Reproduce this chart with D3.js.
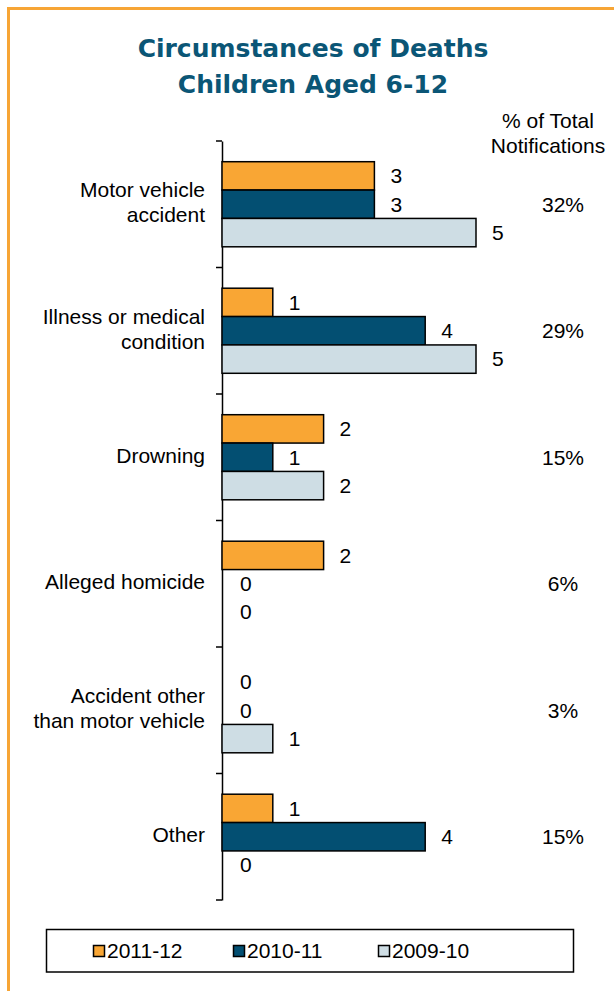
<!DOCTYPE html>
<html>
<head>
<meta charset="utf-8">
<script src="https://cdn.jsdelivr.net/npm/d3@7"></script>
<style>
  html, body { margin: 0; padding: 0; background: #fff; }
  svg { display: block; }
</style>
</head>
<body>
<svg id="chart" width="614" height="991"></svg>
<script>
// Circumstances of deaths, children aged 6-12, by financial year
const categories = [
  "Motor vehicle accident",
  "Illness or medical condition",
  "Drowning",
  "Alleged homicide",
  "Accident other than motor vehicle",
  "Other"
];
const categoryLines = [
  ["Motor vehicle", "accident"],
  ["Illness or medical", "condition"],
  ["Drowning"],
  ["Alleged homicide"],
  ["Accident other", "than motor vehicle"],
  ["Other"]
];
const seriesNames = ["2011-12", "2010-11", "2009-10"];
const values2011 = [3, 1, 2, 2, 0, 1];
const values2010 = [3, 4, 1, 0, 0, 4];
const values2009 = [5, 5, 2, 0, 1, 0];
const pctOfTotal = ["32%", "29%", "15%", "6%", "3%", "15%"];
const colors = ["#F9A634", "#034F72", "#CEDDE4"];

const seriesValues = [values2011, values2010, values2009];
const rows = categories.map((c, i) => ({
  cat: c,
  lines: categoryLines[i],
  pct: pctOfTotal[i],
  vals: seriesNames.map((s, k) => ({ series: s, value: seriesValues[k][i], color: colors[k] }))
}));

const svg = d3.select("#chart");

// page frame
svg.append("path")
  .attr("d", "M8.5,1000 V8.5 H620")
  .attr("fill", "none")
  .attr("stroke", "#F7A535")
  .attr("stroke-width", 3);

// title
const title = svg.append("text")
  .attr("text-anchor", "middle")
  .attr("fill", "#0B5676")
  .attr("font-family", "'DejaVu Sans', sans-serif")
  .attr("font-weight", "bold")
  .attr("font-size", 25);
title.append("tspan").attr("x", 313).attr("y", 57).text("Circumstances of Deaths");
title.append("tspan").attr("x", 313).attr("y", 93).text("Children Aged 6-12");

const font = "'Liberation Sans', Arial, sans-serif";
const fs = 21;

// scales
const y = d3.scaleBand().domain(categories).range([141, 900]).paddingInner(0).paddingOuter(0);
const yInner = d3.scaleBand().domain(seriesNames).range([0, y.bandwidth()]).paddingOuter(0.73).paddingInner(0);
const x = d3.scaleLinear().domain([0, 5]).range([222, 476]);

// category axis line with ticks between groups
const axis = d3.axisLeft(y).tickSize(0).tickSizeOuter(0).tickFormat("");
const axisG = svg.append("g").attr("transform", `translate(${x(0)},0)`).call(axis);
axisG.select(".domain").attr("stroke", "#000").attr("stroke-width", 1.5);
axisG.selectAll(".tick").remove();
const boundaries = categories.map(c => y(c)).concat([y.range()[1]]);
svg.append("g").selectAll("line").data(boundaries).join("line")
  .attr("x1", x(0) - 6).attr("x2", x(0))
  .attr("y1", d => d).attr("y2", d => d)
  .attr("stroke", "#000").attr("stroke-width", 1.5);

// bars
const groups = svg.append("g").selectAll("g").data(rows).join("g")
  .attr("transform", d => `translate(0,${y(d.cat)})`);

groups.selectAll("rect").data(d => d.vals.filter(v => v.value > 0)).join("rect")
  .attr("x", x(0))
  .attr("y", d => yInner(d.series))
  .attr("width", d => x(d.value) - x(0))
  .attr("height", yInner.bandwidth())
  .attr("fill", d => d.color)
  .attr("stroke", "#000")
  .attr("stroke-width", 1.5);

groups.selectAll("text.val").data(d => d.vals).join("text")
  .attr("class", "val")
  .attr("x", d => x(d.value) + (d.value > 0 ? 16 : 18))
  .attr("y", d => yInner(d.series) + yInner.bandwidth() / 2)
  .attr("dy", "0.35em")
  .attr("font-family", font)
  .attr("font-size", fs)
  .attr("fill", "#000")
  .text(d => d.value);

// category labels and share of notifications
groups.each(function(d) {
  const g = d3.select(this);
  const n = d.lines.length;
  const cy = y.bandwidth() / 2;
  d.lines.forEach((line, j) => {
    g.append("text")
      .attr("x", 205)
      .attr("y", cy - 2 + (j - (n - 1) / 2) * 25)
      .attr("dy", "0.35em")
      .attr("text-anchor", "end")
      .attr("font-family", font)
      .attr("font-size", fs)
      .attr("fill", "#000")
      .text(line);
  });
  g.append("text")
    .attr("x", 563)
    .attr("y", cy)
    .attr("dy", "0.35em")
    .attr("text-anchor", "middle")
    .attr("font-family", font)
    .attr("font-size", fs)
    .attr("fill", "#000")
    .text(d.pct);
});

// column heading
const head = svg.append("text")
  .attr("text-anchor", "middle")
  .attr("font-family", font)
  .attr("font-size", fs)
  .attr("fill", "#000");
head.append("tspan").attr("x", 548).attr("y", 128).text("% of Total");
head.append("tspan").attr("x", 548).attr("y", 153).text("Notifications");

// legend
const legend = svg.append("g");
legend.append("rect")
  .attr("x", 46.5).attr("y", 929.5).attr("width", 527).attr("height", 42.5)
  .attr("fill", "#fff").attr("stroke", "#000").attr("stroke-width", 1.5);
const legendX = [93, 233, 378];
const items = legend.selectAll("g").data(seriesNames).join("g")
  .attr("transform", (d, i) => `translate(${legendX[i]},951)`);
items.append("rect")
  .attr("x", 0.5).attr("y", -5.5).attr("width", 11).attr("height", 11)
  .attr("fill", (d, i) => colors[i]).attr("stroke", "#000").attr("stroke-width", 1.5);
items.append("text")
  .attr("x", 14).attr("y", 0).attr("dy", "0.35em")
  .attr("font-family", font).attr("font-size", fs).attr("fill", "#000")
  .text(d => d);
</script>
</body>
</html>
